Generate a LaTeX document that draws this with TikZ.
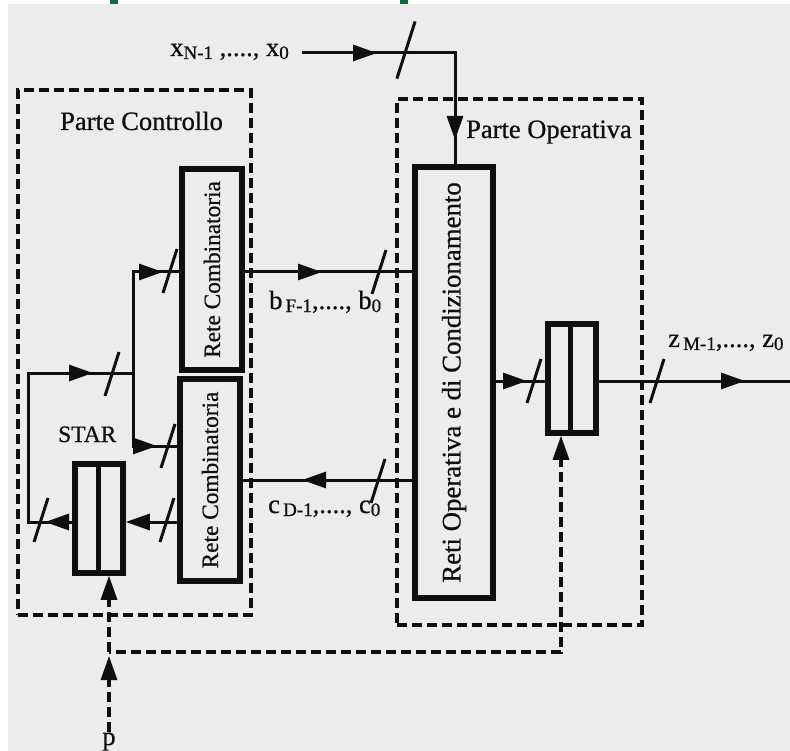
\documentclass[tikz,border=0pt]{standalone}
\usepackage{fontspec}
\setmainfont{Liberation Serif}
\newfontfamily\inkfont{Liberation Serif}[FakeBold=0.7]
\usetikzlibrary{arrows.meta,calc}
\definecolor{paper}{RGB}{236,236,236}
\definecolor{ink}{RGB}{15,15,15}
\definecolor{greentab}{RGB}{14,106,60}
\newcommand\sbs[1]{\raisebox{-3pt}{\fontsize{19}{21}\selectfont #1}}
\begin{document}
\begin{tikzpicture}[x=1pt,y=-1pt,
  conn/.style={draw=ink,line width=3pt},
  arr/.style={conn,-{Triangle[length=24pt,width=16pt]}},
  dsh/.style={draw=ink,line width=3.2pt,dash pattern=on 10pt off 5pt},
  dbox/.style={dsh,inner sep=0pt},
  thickbox/.style={draw=ink,line width=6pt,inner sep=0pt},
  regbox/.style={draw=ink,line width=5.5pt,inner sep=0pt,minimum width=48pt,minimum height=109pt},
  lbl/.style={inner sep=0pt,text=ink,font=\inkfont\fontsize{26.5}{30}\selectfont},
  rlbl/.style={inner sep=0pt,text=ink,rotate=90},
  pics/slashmark/.style={code={\draw[draw=ink,line width=3pt] (7pt,22pt) -- (-7pt,-22pt);}}
]
\useasboundingbox (0,0) rectangle (790,751);
\fill[white] (0,0) rectangle (790,751);
\fill[paper] (8,4) rectangle (790,751);
\fill[greentab] (110,0) rectangle (118,4);
\fill[greentab] (400,0) rectangle (408,4);

% dashed regions
\node[dbox,minimum width=233pt,minimum height=525pt] (PC) at (134.5,352.5) {};
\node[dbox,minimum width=245pt,minimum height=526pt] (PO) at (519.5,362) {};
\node[lbl,anchor=base west] (pcl) at (60,130) {Parte Controllo};
\node[lbl,anchor=base west] (pol) at (466,138) {Parte Operativa};

% blocks
\node[thickbox,minimum width=60pt,minimum height=201pt] (R1) at (212,269.5) {};
\node[thickbox,minimum width=60pt,minimum height=202pt] (R2) at (210,480) {};
\node[thickbox,minimum width=78pt,minimum height=431pt] (ROC) at (454,382.5) {};
\node[rlbl,font=\inkfont\fontsize{23.3}{26}\selectfont] at (R1.center) {Rete Combinatoria};
\node[rlbl,font=\inkfont\fontsize{23.3}{26}\selectfont] at (R2.center) {Rete Combinatoria};
\node[rlbl,font=\inkfont\fontsize{26.8}{30}\selectfont] at (ROC.center) {Reti Operativa e di Condizionamento};

% registers
\node[regbox] (REG) at (572,378.5) {};
\draw[draw=ink,line width=5pt] (570,324) -- (570,433);
\node[regbox] (STR) at (99,518.5) {};
\draw[draw=ink,line width=5pt] (98,464) -- (98,573);
\node[lbl,anchor=base west,font=\inkfont\fontsize{23.5}{26}\selectfont] (starl) at (58,442) {STAR};

% x input
\node[lbl,anchor=base east] (xl) at (289,56) {x\sbs{N-1} ,...., x\sbs{0}};
\coordinate (xs) at (302,53);
\coordinate (xa) at (377,53);
\coordinate (xc) at (455,53);
\coordinate (xd) at (455,140);
\draw[conn,line join=miter] (xs) -- (xc) -- (xc |- ROC.north);
\draw[arr] (xs) -- (xa);
\draw[arr] (xc) -- (xd);
\pic[scale=1.3] at (406,50) {slashmark};

% b bus
\coordinate (by) at (0,272);
\coordinate (btip) at (322,272);
\draw[conn] (R1.east |- by) -- (ROC.west |- by);
\draw[arr] (R1.east |- by) -- (btip);
\pic at (379,272) {slashmark};
\node[lbl,anchor=base west] (bl) at (269,309) {b\sbs{\,F-1},...., b\sbs{0}};

% c bus
\coordinate (cy) at (0,480);
\coordinate (ctip) at (302,480);
\draw[conn] (ROC.west |- cy) -- (R2.east |- cy);
\draw[arr] (ROC.west |- cy) -- (ctip);
\pic at (378,481) {slashmark};
\node[lbl,anchor=base west] (cl) at (268,513) {c\sbs{\,D-1},...., c\sbs{0}};

% ROC -> register -> output
\coordinate (zy) at (0,381);
\coordinate (rtip) at (527,381);
\coordinate (zend) at (790,381);
\coordinate (ztip) at (745,381);
\draw[conn] (ROC.east |- zy) -- (REG.west |- zy);
\draw[arr] (ROC.east |- zy) -- (rtip);
\pic at (534,381) {slashmark};
\draw[conn] (REG.east |- zy) -- (zend);
\draw[arr] (REG.east |- zy) -- (ztip);
\pic at (657,381) {slashmark};
\node[lbl,anchor=base west] (zl) at (668,347) {z\sbs{\,M-1},...., z\sbs{0}};

% control loop
\coordinate (sl) at (28,522);
\coordinate (st) at (28,373);
\coordinate (j) at (133,373);
\coordinate (j1) at (133,272);
\coordinate (j2) at (133,446);
\draw[conn,line join=miter] (STR.west |- sl) -- (sl) -- (st) -- (j);
\draw[arr] (STR.west |- sl) -- (45,522);
\pic at (41,520) {slashmark};
\draw[arr] (st) -- (93,373);
\pic at (112,374) {slashmark};
\draw[conn,line join=miter] (j2) -- (j1) -- (R1.west |- j1);
\draw[arr] (j1) -- (163,272);
\pic at (170,271) {slashmark};
\draw[conn,line join=miter] (j1) -- (j2) -- (R2.west |- j2);
\draw[arr] (j2) -- (157,446);
\pic at (168,446) {slashmark};
\draw[arr] (R2.west |- sl) -- (STR.east |- sl);
\pic at (167,520) {slashmark};

% clocks
\coordinate (ck1) at (561,652);
\coordinate (ck0) at (561,457);
\coordinate (jp) at (109,652);
\draw[dsh] (ck0) -- (ck1) -- (jp);
\draw[arr] (ck0) -- (REG.south -| ck0);
\coordinate (sk0) at (109,598);
\draw[dsh] (jp) -- (sk0);
\draw[arr] (sk0) -- (STR.south -| sk0);
\node[lbl,anchor=base] (p) at (109,745) {p};
\coordinate (pk) at (109,680);
\draw[dsh] (p.north) -- (pk);
\draw[arr] (pk) -- (109,656);
\end{tikzpicture}
\end{document}
